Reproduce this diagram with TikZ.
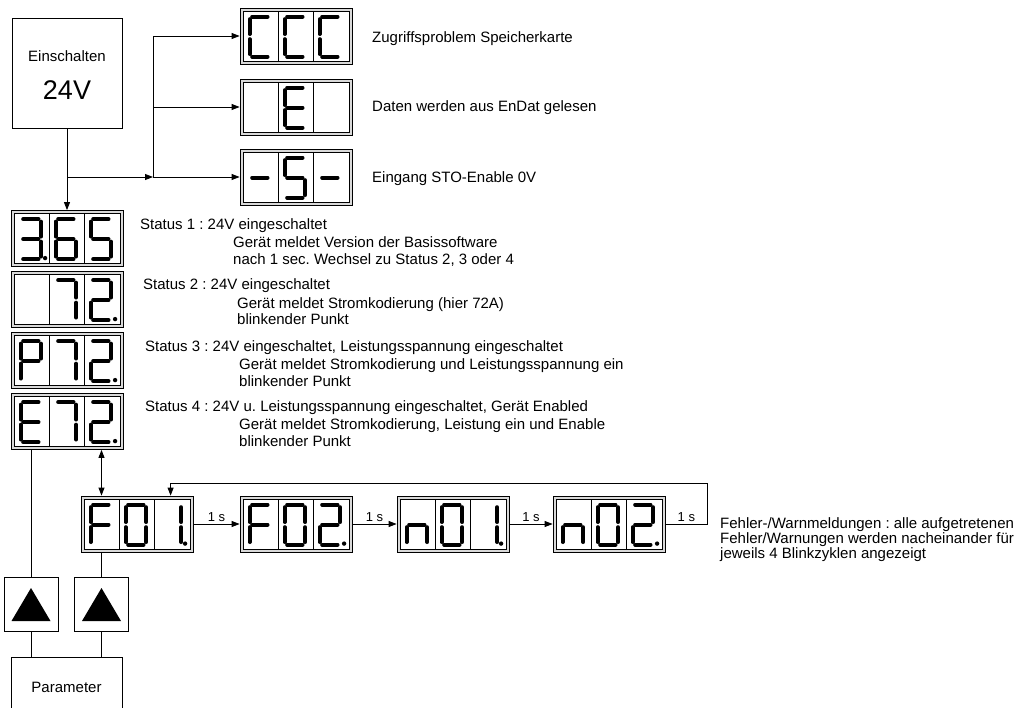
\documentclass[tikz,border=0pt]{standalone}
\usepackage{fontspec}
\setmainfont{Liberation Sans}
\usetikzlibrary{arrows.meta,positioning,calc}
\frenchspacing

\tikzset{
  kasten/.style={draw,line width=0.9pt,inner sep=0pt},
  anzeigekasten/.style={draw,line width=0.8pt,fill=gray!30,minimum width=112pt,minimum height=56pt,inner sep=0pt},
  segment/.style={line width=3.8pt,line cap=round},
  linie/.style={line width=0.9pt},
  pfeil/.style={line width=0.9pt,-{Triangle[length=8pt,width=6pt]}},
  doppelpfeil/.style={line width=0.9pt,{Triangle[length=8pt,width=6pt]}-{Triangle[length=8pt,width=6pt]}},
  txt/.style={anchor=base west,inner sep=0pt,font=\fontsize{15}{18}\selectfont},
  zeit/.style={midway,above=1.5pt,inner sep=0pt,font=\fontsize{13}{15}\selectfont},
}

% 7セグメントの各セグメント（セル左上からの相対位置）
\newcommand{\segmenta}{\draw[segment] (9,9) -- (24.5,9);}
\newcommand{\segmentb}{\draw[segment] (27,11.5) -- (27,26.5);}
\newcommand{\segmentc}{\draw[segment] (27,31.5) -- (27,46.5);}
\newcommand{\segmentd}{\draw[segment] (9,49) -- (24.5,49);}
\newcommand{\segmente}{\draw[segment] (6.5,31.5) -- (6.5,46.5);}
\newcommand{\segmentf}{\draw[segment] (6.5,11.5) -- (6.5,26.5);}
\newcommand{\segmentg}{\draw[segment] (9,29) -- (24.5,29);}

% 表示器の枠（外枠・内枠・仕切り線）
\newcommand{\anzeige}[2]{%
  \node[anzeigekasten] (#1) at (#2) {};
  \draw[line width=0.8pt,fill=white] ($(#1.north west)+(3.5,3.5)$) rectangle ($(#1.south east)+(-3.5,-3.5)$);
  \draw[line width=0.8pt] ($(#1.north west)+(38.5,3.5)$) -- ($(#1.south west)+(38.5,-3.5)$);
  \draw[line width=0.8pt] ($(#1.north west)+(73.5,3.5)$) -- ($(#1.south west)+(73.5,-3.5)$);}

% 1桁分のセグメントを描く
\newcommand{\ziffer}[3]{%
  \begin{scope}[shift={($(#1.north west)+({3.5+35*#2},0)$)}]
    \foreach \s in {#3} {\csname segment\s\endcsname}
  \end{scope}}

% 小数点
\newcommand{\punkt}[2]{\fill ($(#1.north west)+({34.5+35*#2},48)$) circle (2.2pt);}

\begin{document}
\begin{tikzpicture}[x=1pt,y=-1pt]
  \clip (0,0) rectangle (1028,707); % 画像の範囲

  \node[kasten,minimum size=110pt] (ein) at (67,73) {}; % 電源投入の箱
  \node[font=\fontsize{15}{18}\selectfont] (einT) at (67,56) {Einschalten};
  \node[font=\fontsize{27}{30}\selectfont] (einV) at (67,90) {24V};

  \anzeige{ccc}{296,36} % 上段の表示器
  \ziffer{ccc}{0}{a,d,e,f}
  \ziffer{ccc}{1}{a,d,e,f}
  \ziffer{ccc}{2}{a,d,e,f}
  \anzeige{endat}{296,107}
  \ziffer{endat}{1}{a,d,e,f,g}
  \anzeige{sto}{296,177}
  \ziffer{sto}{0}{g}
  \ziffer{sto}{1}{a,f,g,c,d}
  \ziffer{sto}{2}{g}

  \node[txt] (zt1) at (372,42.5) {Zugriffsproblem Speicherkarte};
  \node[txt] (zt2) at (372,111.5) {Daten werden aus EnDat gelesen};
  \node[txt] (zt3) at (372,182.5) {Eingang STO-Enable 0V};

  \anzeige{st1}{67,238.5} % 状態表示 1〜4
  \ziffer{st1}{0}{a,b,g,c,d}
  \punkt{st1}{0}
  \ziffer{st1}{1}{a,f,g,e,d,c}
  \ziffer{st1}{2}{a,f,g,c,d}
  \anzeige{st2}{67,299.5}
  \ziffer{st2}{1}{a,b,c}
  \ziffer{st2}{2}{a,b,g,e,d}
  \punkt{st2}{2}
  \anzeige{st3}{67,360.5}
  \ziffer{st3}{0}{a,b,f,g,e}
  \ziffer{st3}{1}{a,b,c}
  \ziffer{st3}{2}{a,b,g,e,d}
  \punkt{st3}{2}
  \anzeige{st4}{67,421.5}
  \ziffer{st4}{0}{a,d,e,f,g}
  \ziffer{st4}{1}{a,b,c}
  \ziffer{st4}{2}{a,b,g,e,d}
  \punkt{st4}{2}

  \node[txt] (s1a) at (140,229.5) {Status 1 : 24V eingeschaltet};
  \node[txt] (s1b) at (233,247.5) {Gerät meldet Version der Basissoftware};
  \node[txt] (s1c) at (233,264.5) {nach 1 sec. Wechsel zu Status 2, 3 oder 4};
  \node[txt] (s2a) at (143,289.5) {Status 2 : 24V eingeschaltet};
  \node[txt] (s2b) at (237,308) {Gerät meldet Stromkodierung (hier 72A)};
  \node[txt] (s2c) at (237,324.5) {blinkender Punkt};
  \node[txt] (s3a) at (145,351.5) {Status 3 : 24V eingeschaltet, Leistungsspannung eingeschaltet};
  \node[txt] (s3b) at (239,369.5) {Gerät meldet Stromkodierung und Leistungsspannung ein};
  \node[txt] (s3c) at (239,386.5) {blinkender Punkt};
  \node[txt] (s4a) at (145,411.5) {Status 4 : 24V u. Leistungsspannung eingeschaltet, Gerät Enabled};
  \node[txt] (s4b) at (239,429.5) {Gerät meldet Stromkodierung, Leistung ein und Enable};
  \node[txt] (s4c) at (239,446) {blinkender Punkt};

  \anzeige{f01}{137,524} % 異常・警告表示の列
  \ziffer{f01}{0}{a,f,g,e}
  \ziffer{f01}{1}{a,b,c,d,e,f}
  \ziffer{f01}{2}{b,c}
  \punkt{f01}{2}
  \anzeige{f02}{296,524}
  \ziffer{f02}{0}{a,f,g,e}
  \ziffer{f02}{1}{a,b,c,d,e,f}
  \ziffer{f02}{2}{a,b,g,e,d}
  \punkt{f02}{2}
  \anzeige{n01}{453,524}
  \ziffer{n01}{0}{g,c,e}
  \ziffer{n01}{1}{a,b,c,d,e,f}
  \ziffer{n01}{2}{b,c}
  \punkt{n01}{2}
  \anzeige{n02}{609,524}
  \ziffer{n02}{0}{g,c,e}
  \ziffer{n02}{1}{a,b,c,d,e,f}
  \ziffer{n02}{2}{a,b,g,e,d}
  \punkt{n02}{2}

  \node[txt] (fw1) at (720,528.5) {Fehler-/Warnmeldungen : alle aufgetretenen};
  \node[txt] (fw2) at (720,543.5) {Fehler/Warnungen werden nacheinander für};
  \node[txt] (fw3) at (720,558.5) {jeweils 4 Blinkzyklen angezeigt};

  \node[kasten,minimum size=54pt] (tast1) at (31,604.5) {}; % 操作キー
  \node[kasten,minimum size=54pt] (tast2) at (101.5,604.5) {};
  \fill ($(tast1.center)+(0,-16.5)$) -- ++(19.5,33) -- ++(-39,0) -- cycle; % 上向き三角
  \fill ($(tast2.center)+(0,-16.5)$) -- ++(19.5,33) -- ++(-39,0) -- cycle;
  \node[kasten,minimum width=111pt,minimum height=60pt,font=\fontsize{15}{18}\selectfont] (param) at (66.5,687) {Parameter};

  \coordinate (knoten1) at (ein.south |- sto.west); % 分岐点
  \coordinate (knoten2) at ($(knoten1)+(86,0)$);
  \coordinate (rueck1) at ($(n02.east)+(42,0)$);
  \coordinate (rueck2) at ($(rueck1)+(0,-41)$);
  \coordinate (rueckziel) at ($(f01.north west)+(90,0)$);

  \draw[pfeil] (ein.south) -- (st1.north); % 電源投入から状態1へ
  \draw[pfeil] (knoten1) -- (knoten2);
  \draw[pfeil] (knoten2) -- (sto.west);
  \draw[pfeil] (knoten2) |- (endat.west);
  \draw[pfeil] (knoten2) |- (ccc.west);
  \draw[doppelpfeil] (st4.south -| tast2) -- (f01.north -| tast2); % 状態4と異常表示の往復
  \draw[pfeil] (f01.east) -- node[zeit] (z1) {1 s} (f02.west);
  \draw[pfeil] (f02.east) -- node[zeit] (z2) {1 s} (n01.west);
  \draw[pfeil] (n01.east) -- node[zeit] (z3) {1 s} (n02.west);
  \draw[pfeil] (n02.east) -- node[zeit] (z4) {1 s} (rueck1) -- (rueck2) -| (rueckziel); % 最初に戻る
  \draw[linie] (st4.south -| tast1) -- (tast1.north);
  \draw[linie] (f01.south -| tast2) -- (tast2.north);
  \draw[linie] (tast1.south) -- (tast1.south |- param.north);
  \draw[linie] (tast2.south) -- (tast2.south |- param.north);
\end{tikzpicture}
\end{document}
